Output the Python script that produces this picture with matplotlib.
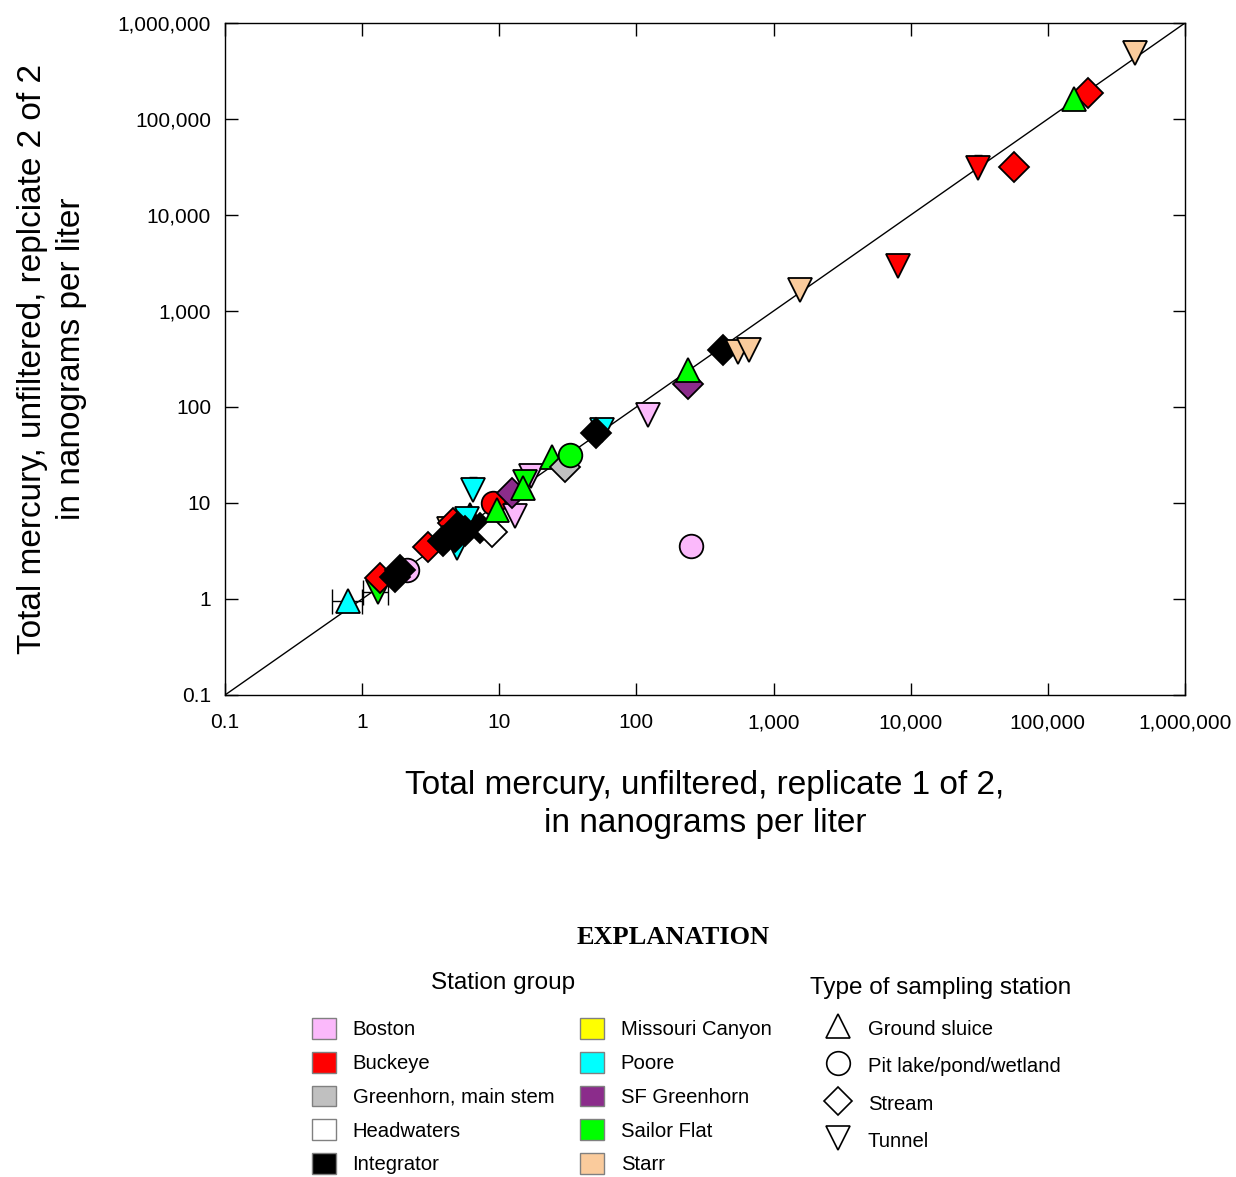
import matplotlib
matplotlib.use("Agg")
import matplotlib.pyplot as plt
from matplotlib.lines import Line2D
from matplotlib.patches import Patch
from matplotlib.ticker import FixedLocator, NullLocator

# replicate pairs of total mercury (ng/L)
rep1 = [0.79, 1.31, 1.35, 2.13, 1.74, 1.89, 3.03, 4.3, 4.6, 3.9, 4.94,
        4.77, 6.1, 5.83, 5.0, 5.63, 7.25, 8.9, 6.45, 9.0, 9.65, 13.0, 12.4,
        17.1, 15.4, 14.9, 24.4, 30.3, 33.0, 56.4, 50.3, 122.0, 236.0,
        236.0, 431.0, 547.0, 664.0, 1560.0, 8100.0, 30900.0, 56400.0,
        196000.0, 154000.0, 433000.0, 252.0]
rep2 = [0.95, 1.18, 1.65, 2.0, 1.69, 2.0, 3.48, 5.3, 6.2, 4.0, 3.4,
        4.42, 7.5, 6.8, 5.6, 5.1, 5.5, 5.0, 13.6, 10.0, 8.4, 7.3, 12.7,
        19.1, 16.6, 14.3, 30.2, 23.7, 31.6, 57.6, 53.7, 83.0, 174.0,
        242.0, 394.0, 375.0, 394.0, 1660.0, 2930.0, 31000.0, 31600.0,
        187000.0, 162000.0, 492000.0, 3.57]
group = ["Poore", "Sailor Flat", "Buckeye", "Boston", "Integrator",
         "Integrator", "Buckeye", "Starr", "Buckeye", "Integrator", "Poore",
         "Integrator", "Integrator", "Poore", "Integrator", "Integrator",
         "Integrator", "Headwaters", "Poore", "Buckeye", "Sailor Flat",
         "Boston", "SF Greenhorn", "Boston", "Sailor Flat", "Sailor Flat",
         "Sailor Flat", "Greenhorn, main stem", "Sailor Flat", "Poore",
         "Integrator", "Boston", "SF Greenhorn", "Sailor Flat", "Integrator",
         "Starr", "Starr", "Starr", "Buckeye", "Buckeye", "Buckeye",
         "Buckeye", "Sailor Flat", "Starr", "Boston"]
station = ["Ground sluice", "Tunnel", "Stream", "Pit lake/pond/wetland",
           "Stream", "Stream", "Stream", "Tunnel", "Stream", "Stream",
           "Tunnel", "Stream", "Ground sluice", "Tunnel", "Stream", "Stream",
           "Stream", "Stream", "Tunnel", "Pit lake/pond/wetland",
           "Ground sluice", "Tunnel", "Stream", "Tunnel", "Tunnel",
           "Ground sluice", "Ground sluice", "Stream", "Pit lake/pond/wetland",
           "Tunnel", "Stream", "Tunnel", "Stream", "Ground sluice", "Stream",
           "Tunnel", "Tunnel", "Tunnel", "Tunnel", "Tunnel", "Stream",
           "Stream", "Ground sluice", "Tunnel", "Pit lake/pond/wetland"]

# error bars (x, y, low, high)
xerr_bars = [(0.79, 0.95, 0.60, 1.0), (1.31, 1.18, 1.02, 1.55)]
yerr_bars = [(6.45, 13.6, 13.6, 18.5), (122.0, 83.0, 83.0, 110.0),
             (30900.0, 31000.0, 31000.0, 42000.0),
             (433000.0, 492000.0, 492000.0, 640000.0)]

group_names = ["Boston", "Buckeye", "Greenhorn, main stem", "Headwaters",
               "Integrator", "Missouri Canyon", "Poore", "SF Greenhorn",
               "Sailor Flat", "Starr"]
group_colors = ["#fbb9fb", "#ff0000", "#c0c0c0", "#ffffff", "#000000",
                "#ffff00", "#00ffff", "#8b2c8b", "#00ff00", "#facb9c"]
station_names = ["Ground sluice", "Pit lake/pond/wetland", "Stream", "Tunnel"]
station_markers = ["^", "o", "D", "v"]
station_sizes = [17, 17, 15, 17]

ticks = [0.1, 1, 10, 100, 1000, 10000, 100000, 1000000]
tick_labels = ["0.1", "1", "10", "100", "1,000", "10,000", "100,000",
               "1,000,000"]

SANS = ["Liberation Sans", "DejaVu Sans"]

color_of = dict(zip(group_names, group_colors))
marker_of = dict(zip(station_names, station_markers))
size_of = dict(zip(station_names, station_sizes))

fig = plt.figure(figsize=(12.36, 11.77), dpi=100)
ax = fig.add_axes([225 / 1236, 1 - 695 / 1177, 960 / 1236, 672 / 1177])
ax.set_xscale("log")
ax.set_yscale("log")
ax.set_xlim(0.1, 1e6)
ax.set_ylim(0.1, 1e6)

# 1:1 line
ax.plot([0.1, 1e6], [0.1, 1e6], color="black", lw=1, zorder=1)

for x, y, lo, hi in xerr_bars:
    ax.errorbar([x], [y], xerr=[[x - lo], [hi - x]], fmt="none",
                ecolor="black", elinewidth=1, capsize=9, zorder=2)
for x, y, lo, hi in yerr_bars:
    ax.errorbar([x], [y], yerr=[[y - lo], [hi - y]], fmt="none",
                ecolor="black", elinewidth=1, capsize=3, zorder=2)

for i, (x, y, g, s) in enumerate(zip(rep1, rep2, group, station)):
    ax.plot(x, y, linestyle="none", marker=marker_of[s],
            markersize=size_of[s], markerfacecolor=color_of[g],
            markeredgecolor="black", markeredgewidth=1.3, zorder=3 + i * 0.01)

for spine in ax.spines.values():
    spine.set_linewidth(1)

ax.xaxis.set_major_locator(FixedLocator(ticks))
ax.yaxis.set_major_locator(FixedLocator(ticks))
ax.xaxis.set_minor_locator(NullLocator())
ax.yaxis.set_minor_locator(NullLocator())
ax.set_xticklabels(tick_labels, family=SANS, fontsize=15)
ax.set_yticklabels(tick_labels, family=SANS, fontsize=15)
ax.tick_params(which="major", direction="in", length=9, width=1,
               top=True, right=True)
ax.tick_params(axis="x", pad=13)
ax.tick_params(axis="y", pad=10)

ax.set_xlabel("Total mercury, unfiltered, replicate 1 of 2,\n"
              "in nanograms per liter", family=SANS, fontsize=24,
              labelpad=27, linespacing=1.32)
ax.set_ylabel("Total mercury, unfiltered, replciate 2 of 2\n"
              "in nanograms per liter", family=SANS, fontsize=24,
              labelpad=22, linespacing=1.35)

# explanation block
fig.text(673 / 1236, 1 - 938 / 1177, "EXPLANATION", ha="center",
         va="center", family=["Liberation Serif", "DejaVu Serif"],
         fontweight="bold", fontsize=19)
fig.text(503 / 1236, 1 - 983 / 1177, "Station group", ha="center",
         va="center", family=SANS, fontsize=17.5)
fig.text(941 / 1236, 1 - 988 / 1177, "Type of sampling station",
         ha="center", va="center", family=SANS, fontsize=17.5)

patches = [Patch(facecolor=c, edgecolor="#808080", linewidth=1, label=n)
           for n, c in zip(group_names, group_colors)]
common = dict(frameon=False, loc="upper left", borderpad=0,
              borderaxespad=0, prop={"family": SANS, "size": 14.6},
              handlelength=1.2, handleheight=1.2, handletextpad=0.8,
              labelspacing=0.62)
fig.legend(handles=patches[:5], bbox_to_anchor=(312 / 1236, 1 - 1018 / 1177),
           **common)
fig.legend(handles=patches[5:], bbox_to_anchor=(580 / 1236, 1 - 1018 / 1177),
           **common)

shape_handles = [Line2D([], [], linestyle="none", marker=m,
                        markersize=14 if m == "D" else 17,
                        markerfacecolor="white", markeredgecolor="black",
                        markeredgewidth=1.2, label=n)
                 for n, m in zip(station_names, station_markers)]
fig.legend(handles=shape_handles, frameon=False, loc="upper left",
           bbox_to_anchor=(825 / 1236, 1 - 1017 / 1177), borderpad=0,
           borderaxespad=0, prop={"family": SANS, "size": 14.6},
           handlelength=1.25, handleheight=1.3, handletextpad=0.85,
           labelspacing=0.76)

fig.savefig("out.png", dpi=100, facecolor="white")
